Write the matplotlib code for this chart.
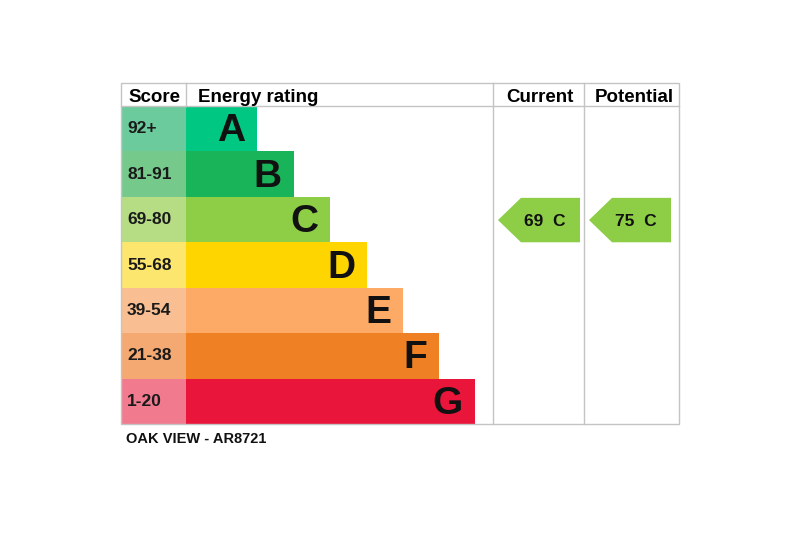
import matplotlib.pyplot as plt
from matplotlib.patches import Rectangle, Polygon

plt.rcParams['font.family'] = ['Liberation Sans', 'DejaVu Sans']

# data
bands = ['A', 'B', 'C', 'D', 'E', 'F', 'G']
score_ranges = ['92+', '81-91', '69-80', '55-68', '39-54', '21-38', '1-20']
bar_ends = [257, 294, 330, 367, 403, 439, 475]
bar_colors = ['#00c781', '#19b459', '#8dce46', '#ffd500', '#fcaa65', '#ef8023', '#e9153b']
score_colors = ['#6ccb9c', '#74c98b', '#b6dc84', '#fde66e', '#f9bf92', '#f4a872', '#f27a8f']
current_score, current_band = 69, 'C'
potential_score, potential_band = 75, 'C'
title = 'OAK VIEW - AR8721'

fig = plt.figure(figsize=(8, 5.4), dpi=100)
ax = fig.add_axes([0, 0, 1, 1])
ax.set_xlim(0, 800)
ax.set_ylim(540, 0)
ax.axis('off')

left, right, top, bottom = 121, 679, 83, 424
head_h = 23
x_score, x_cur, x_pot = 186, 493, 584
row_h = (bottom - top - head_h) / len(bands)
grid = '#c4c4c4'

def row_top(i):
    return top + head_h + i * row_h

for i, b in enumerate(bands):
    y = row_top(i)
    ax.add_patch(Rectangle((left, y), x_score - left, row_h, color=score_colors[i], lw=0))
    ax.add_patch(Rectangle((x_score, y), bar_ends[i] - x_score, row_h, color=bar_colors[i], lw=0))
    ax.text(left + 6, y + row_h / 2, score_ranges[i], fontsize=12.5, fontweight='bold',
            ha='left', va='center', color='#1a1a1a')
    ax.text(bar_ends[i] - 12, y + row_h / 2 + 2.5, b, fontsize=28, fontweight='bold',
            ha='right', va='center', color='#111111')

# table lines
ax.add_patch(Rectangle((left, top), right - left, bottom - top, fill=False, ec=grid, lw=1))
ax.plot([left, right], [top + head_h, top + head_h], color=grid, lw=1)
ax.plot([x_score, x_score], [top, top + head_h], color=grid, lw=1)
ax.plot([x_cur, x_cur], [top, bottom], color=grid, lw=1)
ax.plot([x_pot, x_pot], [top, bottom], color=grid, lw=1)

hy = top + head_h / 2 + 2.5
ax.text(left + 7, hy, 'Score', fontsize=13.5, fontweight='bold', ha='left', va='center')
ax.text(x_score + 12, hy, 'Energy rating', fontsize=13.5, fontweight='bold', ha='left', va='center')
ax.text((x_cur + x_pot) / 2 + 1, hy, 'Current', fontsize=13.5, fontweight='bold', ha='center', va='center')
ax.text((x_pot + right) / 2 + 3, hy, 'Potential', fontsize=13.5, fontweight='bold', ha='center', va='center')

def arrow(x0, score, band):
    i = bands.index(band)
    y0 = row_top(i) + 1
    h = row_h - 1
    pts = [(x0 + 5, y0 + h / 2), (x0 + 28, y0), (x0 + 87, y0), (x0 + 87, y0 + h), (x0 + 28, y0 + h)]
    ax.add_patch(Polygon(pts, closed=True, color=bar_colors[i], lw=0))
    ax.text(x0 + 52, y0 + h / 2 + 1, f'{score}  {band}', fontsize=12.5, fontweight='bold',
            ha='center', va='center', color='#111111')

arrow(x_cur, current_score, current_band)
arrow(x_pot, potential_score, potential_band)

ax.text(left + 5, 439, title, fontsize=10.5, fontweight='bold', ha='left', va='center', color='#111111')

fig.savefig('out.png', dpi=100)
